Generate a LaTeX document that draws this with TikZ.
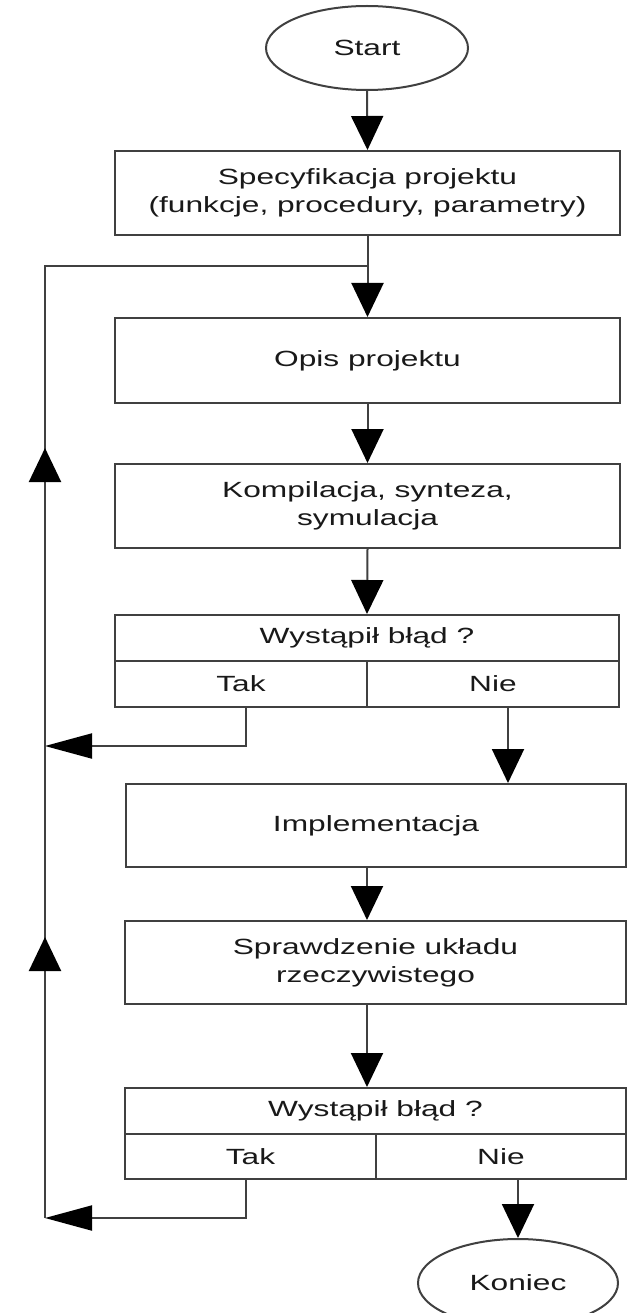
\documentclass[tikz,border=0pt]{standalone}
\usepackage{fontspec}
\setmainfont{Liberation Sans}[FakeStretch=1.44]
\usetikzlibrary{arrows.meta,shapes.geometric}
\begin{document}
\begin{tikzpicture}[x=1pt,y=-1pt,
  ln/.style={draw=black!75,line width=2pt},
  txt/.style={text=black!90,align=center,font=\fontsize{22}{28}\selectfont},
  box/.style={ln,txt,rectangle,inner sep=0pt},
  oval/.style={ln,txt,ellipse,inner sep=0pt},
  va/.style={ln,-{Triangle[length=34pt,width=32pt,color=black]}},
  ha/.style={ln,-{Triangle[length=47pt,width=25pt,color=black]}},
]
\useasboundingbox[fill=white] (0,0) rectangle (627,1313);

% nodes
\node[oval,minimum width=202pt,minimum height=84pt] (start) at (367,48) {Start};
\node[box,minimum width=505pt,minimum height=84pt] (spec) at (367.5,193) {Specyfikacja projektu\\(funkcje, procedury, parametry)};
\node[box,minimum width=505pt,minimum height=85pt] (opis) at (367.5,360.5) {Opis projektu};
\node[box,minimum width=505pt,minimum height=84pt] (komp) at (367.5,506) {Kompilacja, synteza,\\symulacja};
\node[box,minimum width=504pt,minimum height=46pt] (dq1) at (367,638) {Wystąpił błąd ?};
\node[box,minimum width=252pt,minimum height=46pt] (dt1) at (241,684) {Tak};
\node[box,minimum width=252pt,minimum height=46pt] (dn1) at (493,684) {Nie};
\node[box,minimum width=500pt,minimum height=83pt] (impl) at (376,825.5) {Implementacja};
\node[box,minimum width=501pt,minimum height=83pt] (spr) at (375.5,962.5) {Sprawdzenie układu\\rzeczywistego};
\node[box,minimum width=501pt,minimum height=46pt] (dq2) at (375.5,1111) {Wystąpił błąd ?};
\node[box,minimum width=251pt,minimum height=45pt] (dt2) at (250.5,1156.5) {Tak};
\node[box,minimum width=250pt,minimum height=45pt] (dn2) at (501,1156.5) {Nie};
\node[oval,minimum width=200pt,minimum height=88pt] (kon) at (518,1283) {Koniec};

% helper coordinates
\coordinate (cx) at (367,0);
\coordinate (J) at (368,266);
\coordinate (J0) at (45,266);
\coordinate (L1) at (45,746);
\coordinate (L2) at (45,1218);
\coordinate (U1) at (45,448);
\coordinate (U1b) at (45,520);
\coordinate (U2) at (45,937);
\coordinate (U2b) at (45,1000);

% main flow
\draw[va] (start.south) -- (spec.north);
\draw[va] (spec.south) -- (opis.north);
\draw[va] (opis.south) -- (komp.north);
\draw[va] (komp.south) -- (dq1.north);
\draw[va] ([xshift=15pt]dn1.south) -- ([xshift=15pt]dn1.south |- impl.north);
\draw[va] (impl.south -| cx) -- (spr.north -| cx);
\draw[va] (spr.south -| cx) -- (dq2.north -| cx);
\draw[va] ([xshift=17pt]dn2.south) -- (kon.north);

% feedback loops
\draw[ha] ([xshift=5pt]dt1.south) |- (L1);
\draw[ha] ([xshift=-4.5pt]dt2.south) |- (L2);
\draw[ln] (L2) -- (J0) -- (J);
\draw[va] (U1b) -- (U1);
\draw[va] (U2b) -- (U2);
\end{tikzpicture}
\end{document}
